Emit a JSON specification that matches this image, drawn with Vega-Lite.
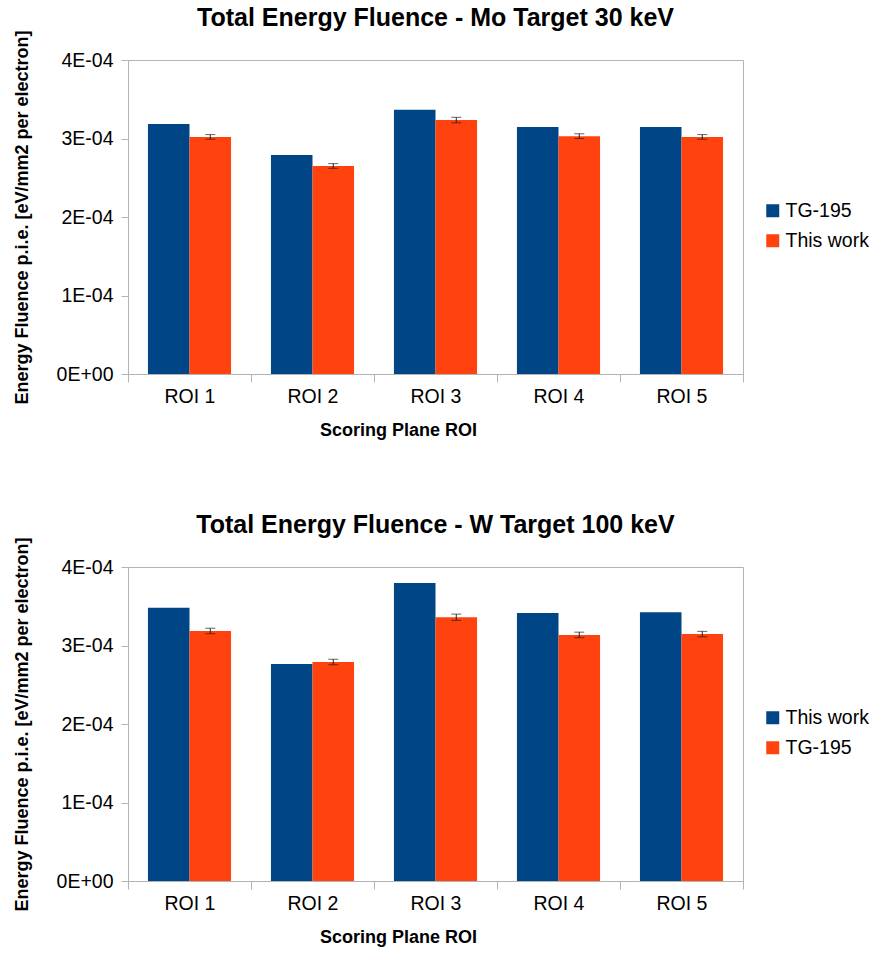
{
  "$schema": "https://vega.github.io/schema/vega-lite/v6.json",
  "padding": {"left": 12, "top": 5, "right": 5, "bottom": 5},
  "datasets": {
    "mo": [
      {"roi": "ROI 1", "series": "TG-195", "value": 0.0003185},
      {"roi": "ROI 1", "series": "This work", "value": 0.000302, "lo": 0.000299, "hi": 0.000305},
      {"roi": "ROI 2", "series": "TG-195", "value": 0.000279},
      {"roi": "ROI 2", "series": "This work", "value": 0.000265, "lo": 0.000262, "hi": 0.000268},
      {"roi": "ROI 3", "series": "TG-195", "value": 0.0003365},
      {"roi": "ROI 3", "series": "This work", "value": 0.0003235, "lo": 0.00032, "hi": 0.000327},
      {"roi": "ROI 4", "series": "TG-195", "value": 0.0003145},
      {"roi": "ROI 4", "series": "This work", "value": 0.000303, "lo": 0.0003, "hi": 0.000306},
      {"roi": "ROI 5", "series": "TG-195", "value": 0.0003145},
      {"roi": "ROI 5", "series": "This work", "value": 0.000302, "lo": 0.000299, "hi": 0.000305}
    ],
    "w": [
      {"roi": "ROI 1", "series": "This work", "value": 0.000348},
      {"roi": "ROI 1", "series": "TG-195", "value": 0.0003185, "lo": 0.000315, "hi": 0.000322},
      {"roi": "ROI 2", "series": "This work", "value": 0.0002765},
      {"roi": "ROI 2", "series": "TG-195", "value": 0.000279, "lo": 0.0002755, "hi": 0.0002825},
      {"roi": "ROI 3", "series": "This work", "value": 0.0003795},
      {"roi": "ROI 3", "series": "TG-195", "value": 0.000336, "lo": 0.000332, "hi": 0.00034},
      {"roi": "ROI 4", "series": "This work", "value": 0.0003415},
      {"roi": "ROI 4", "series": "TG-195", "value": 0.0003135, "lo": 0.00031, "hi": 0.000317},
      {"roi": "ROI 5", "series": "This work", "value": 0.0003425},
      {"roi": "ROI 5", "series": "TG-195", "value": 0.0003145, "lo": 0.000311, "hi": 0.000318}
    ]
  },
  "spacing": 72,
  "vconcat": [
    {
      "title": {"text": "Total Energy Fluence - Mo Target 30 keV"},
      "width": 615,
      "height": 314,
      "data": {"name": "mo"},
      "encoding": {
        "x": {"field": "roi", "type": "nominal", "title": "Scoring Plane ROI", "scale": {"paddingInner": 0, "paddingOuter": 0}},
        "xOffset": {"field": "series", "type": "nominal", "scale": {"domain": ["TG-195", "This work"], "paddingInner": 0, "paddingOuter": 0.48}}
      },
      "layer": [
        {
          "mark": {"type": "bar"},
          "encoding": {
            "y": {"field": "value", "type": "quantitative", "title": "Energy Fluence p.i.e. [eV/mm2 per electron]", "scale": {"domain": [0, 0.0004], "nice": false}, "axis": {"values": [0, 0.0001, 0.0002, 0.0003, 0.0004]}},
            "color": {"field": "series", "type": "nominal", "scale": {"domain": ["TG-195", "This work"], "range": ["#004586", "#ff420e"]}, "legend": {"orient": "none", "legendX": 635, "legendY": 141, "title": null}}
          }
        },
        {
          "transform": [{"filter": "isValid(datum.lo)"}],
          "mark": {"type": "rule", "color": "#222", "strokeWidth": 1},
          "encoding": {
            "y": {"field": "lo", "type": "quantitative", "title": "Energy Fluence p.i.e. [eV/mm2 per electron]"},
            "y2": {"field": "hi"}
          }
        },
        {
          "transform": [{"filter": "isValid(datum.lo)"}],
          "mark": {"type": "tick", "color": "#222", "size": 10, "thickness": 1, "orient": "horizontal"},
          "encoding": {"y": {"field": "lo", "type": "quantitative", "title": "Energy Fluence p.i.e. [eV/mm2 per electron]"}}
        },
        {
          "transform": [{"filter": "isValid(datum.lo)"}],
          "mark": {"type": "tick", "color": "#222", "size": 10, "thickness": 1, "orient": "horizontal"},
          "encoding": {"y": {"field": "hi", "type": "quantitative", "title": "Energy Fluence p.i.e. [eV/mm2 per electron]"}}
        }
      ]
    },
    {
      "title": {"text": "Total Energy Fluence - W Target 100 keV"},
      "width": 615,
      "height": 314,
      "data": {"name": "w"},
      "encoding": {
        "x": {"field": "roi", "type": "nominal", "title": "Scoring Plane ROI", "scale": {"paddingInner": 0, "paddingOuter": 0}},
        "xOffset": {"field": "series", "type": "nominal", "scale": {"domain": ["This work", "TG-195"], "paddingInner": 0, "paddingOuter": 0.48}}
      },
      "layer": [
        {
          "mark": {"type": "bar"},
          "encoding": {
            "y": {"field": "value", "type": "quantitative", "title": "Energy Fluence p.i.e. [eV/mm2 per electron]", "scale": {"domain": [0, 0.0004], "nice": false}, "axis": {"values": [0, 0.0001, 0.0002, 0.0003, 0.0004]}},
            "color": {"field": "series", "type": "nominal", "scale": {"domain": ["This work", "TG-195"], "range": ["#004586", "#ff420e"]}, "legend": {"orient": "none", "legendX": 635, "legendY": 141, "title": null}}
          }
        },
        {
          "transform": [{"filter": "isValid(datum.lo)"}],
          "mark": {"type": "rule", "color": "#222", "strokeWidth": 1},
          "encoding": {
            "y": {"field": "lo", "type": "quantitative", "title": "Energy Fluence p.i.e. [eV/mm2 per electron]"},
            "y2": {"field": "hi"}
          }
        },
        {
          "transform": [{"filter": "isValid(datum.lo)"}],
          "mark": {"type": "tick", "color": "#222", "size": 10, "thickness": 1, "orient": "horizontal"},
          "encoding": {"y": {"field": "lo", "type": "quantitative", "title": "Energy Fluence p.i.e. [eV/mm2 per electron]"}}
        },
        {
          "transform": [{"filter": "isValid(datum.lo)"}],
          "mark": {"type": "tick", "color": "#222", "size": 10, "thickness": 1, "orient": "horizontal"},
          "encoding": {"y": {"field": "hi", "type": "quantitative", "title": "Energy Fluence p.i.e. [eV/mm2 per electron]"}}
        }
      ]
    }
  ],
  "resolve": {
    "scale": {"color": "independent", "xOffset": "independent"},
    "legend": {"color": "independent"}
  },
  "config": {
    "font": "Liberation Sans",
    "view": {"stroke": "#b3b3b3"},
    "axis": {
      "grid": false,
      "domainColor": "#b3b3b3",
      "tickColor": "#b3b3b3",
      "labelFont": "Liberation Sans",
      "labelFontSize": 19.5,
      "labelColor": "#000000",
      "titleFont": "Liberation Sans",
      "titleFontSize": 18,
      "titleFontWeight": "bold",
      "titleColor": "#000000"
    },
    "axisY": {
      "tickSize": 7,
      "labelPadding": 8,
      "titlePadding": 25,
      "labelExpr": "datum.value == 0 ? '0E+00' : format(datum.value * 10000, '.0f') + 'E-04'"
    },
    "axisX": {
      "tickSize": 8,
      "labelPadding": 5,
      "titlePadding": 16,
      "titleX": 270,
      "labelAngle": 0,
      "tickBand": "extent"
    },
    "title": {
      "font": "Liberation Sans",
      "fontSize": 25,
      "fontWeight": "bold",
      "color": "#000000",
      "frame": "group",
      "offset": -1
    },
    "legend": {
      "labelFont": "Liberation Sans",
      "labelFontSize": 19.5,
      "labelColor": "#000000",
      "symbolType": "square",
      "symbolSize": 169,
      "symbolStrokeWidth": 0,
      "rowPadding": 9,
      "labelOffset": 3
    }
  }
}
